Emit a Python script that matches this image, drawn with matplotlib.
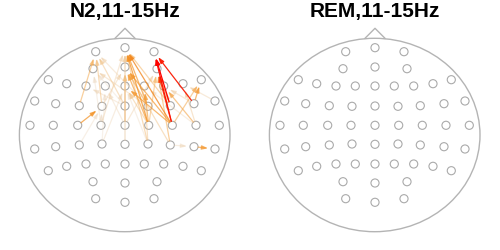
import matplotlib
matplotlib.use("Agg")
import matplotlib.pyplot as plt
from matplotlib.patches import Ellipse
from matplotlib.colors import LinearSegmentedColormap

titles = ["N2,11-15Hz", "REM,11-15Hz"]

# electrode positions (pixels inside a 250x250 panel)
elec_x = [95.7, 125, 154,
          93, 125, 157,
          48.3, 66.7, 86, 105.3, 125, 144.3, 163.7, 183, 201.3,
          34.7, 55.7, 79.3, 102, 125, 148, 170.3, 194, 215,
          30, 53.3, 77.7, 101, 125, 148.7, 172.3, 196, 219.3,
          34.7, 55.7, 79.3, 102, 125, 148, 170.3, 194, 215,
          48.3, 66.7, 86, 105.3, 125, 144.3, 163.7, 183, 201.3,
          93, 125, 157,
          95.7, 125, 154]
elec_y = [51.7, 47.7, 51.7,
          68.7, 67, 68.7,
          79.7, 83.7, 86, 86, 86, 86, 86, 83.7, 79.7,
          101, 103.7, 105.7, 106.3, 106, 106.3, 105.7, 103.7, 101,
          125.3, 125.3, 125.3, 125.3, 125.3, 125.3, 125.3, 125.3, 125.3,
          149, 146.7, 145, 144, 144.3, 144, 145, 146.7, 149,
          170.7, 166.3, 164, 164, 164, 164, 164, 166.3, 170.7,
          181.7, 183, 181.7,
          198.7, 202.3, 198.7]

# directed connections for N2: source electrode, target electrode, strength
src = [21, 30, 22, 30,
       30, 29, 20, 30, 29, 21, 39, 26, 22, 30, 40, 30, 31, 29,
       17, 18, 19, 28, 20, 29, 38, 38, 39, 21,
       27, 18, 36, 28, 20, 39, 27, 19, 21, 31, 23, 28, 37, 35, 29,
       27, 36, 37, 38, 20, 28, 19, 31, 22]
dst = [2, 2, 2, 5,
       1, 1, 1, 4, 4, 5, 5, 18, 14, 14, 41, 10, 12, 11,
       0, 0, 0, 4, 4, 5, 11, 1, 4, 1,
       1, 4, 10, 9, 3, 40, 18, 8, 12, 13, 13, 1, 4, 18, 10,
       3, 9, 1, 10, 0, 5, 3, 11, 12]
strength = [1.0, 0.97, 0.95, 0.9,
            0.72, 0.68, 0.62, 0.62, 0.58, 0.6, 0.45, 0.66, 0.6, 0.45, 0.6, 0.6, 0.5, 0.55,
            0.45, 0.35, 0.3, 0.35, 0.4, 0.4, 0.3, 0.35, 0.3, 0.4,
            0.2, 0.2, 0.15, 0.15, 0.2, 0.15, 0.1, 0.15, 0.2, 0.25, 0.2, 0.25, 0.15, 0.12, 0.3,
            0.12, 0.1, 0.15, 0.12, 0.18, 0.2, 0.1, 0.15, 0.2]

cmap = LinearSegmentedColormap.from_list(
    "conn", [(0, "#e6e0da"), (0.4, "#f5b565"), (0.7, "#f39022"), (0.85, "#f25a10"), (1, "#ff0000")])

fig = plt.figure(figsize=(5, 2.5), dpi=100)

for k in range(2):
    ax = fig.add_axes([0.5 * k, 0, 0.5, 1])
    ax.set_xlim(0, 250)
    ax.set_ylim(250, 0)
    ax.axis("off")

    ax.add_patch(Ellipse((124.7, 135), 210.6, 193.4, fill=False, ec="#b4b4b4", lw=1))
    ax.plot([115, 125, 135], [38.3, 28.3, 38.3], color="#b4b4b4", lw=1)
    ax.scatter(elec_x, elec_y, s=34, facecolors="none", edgecolors="#aaaaaa", linewidths=0.8, zorder=2)
    ax.text(125, 12, titles[k], ha="center", va="center", fontsize=15,
            fontweight="bold", family=["Liberation Sans", "DejaVu Sans"])

    if k == 0:
        order = sorted(range(len(src)), key=lambda i: strength[i])
        for i in order:
            w = strength[i]
            ax.annotate("", xy=(elec_x[dst[i]], elec_y[dst[i]]),
                        xytext=(elec_x[src[i]], elec_y[src[i]]),
                        arrowprops=dict(arrowstyle="-|>,head_length=0.35,head_width=0.12",
                                        color=cmap(w), alpha=0.25 + 0.75 * w, lw=0.9,
                                        shrinkA=3, shrinkB=5, mutation_scale=10),
                        zorder=3)

fig.savefig("out.png", dpi=100)
